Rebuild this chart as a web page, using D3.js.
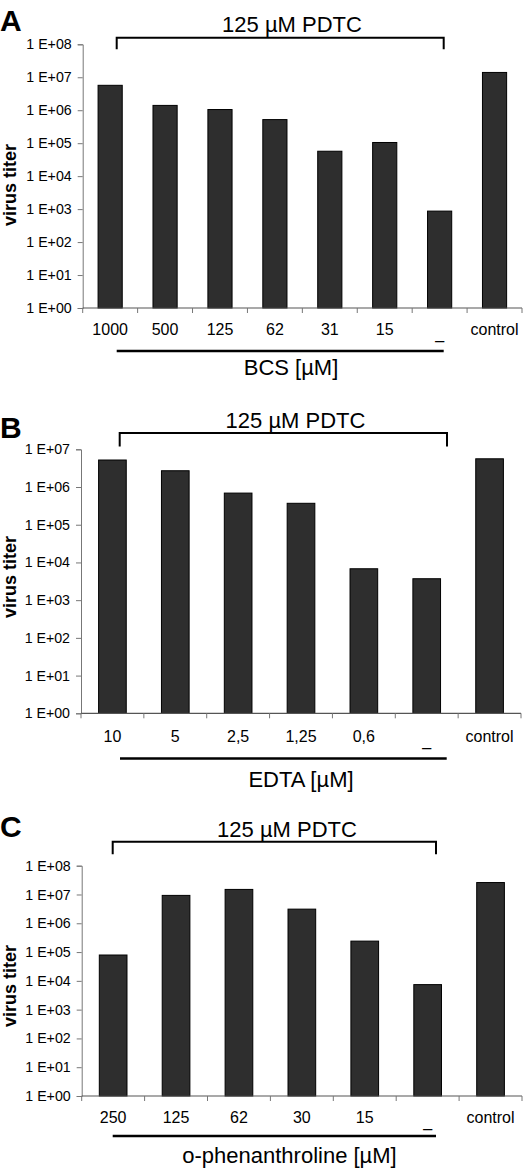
<!DOCTYPE html>
<html><head><meta charset="utf-8">
<script src="https://cdn.jsdelivr.net/npm/d3@7/dist/d3.min.js"></script>
<style>
html,body{margin:0;padding:0;background:#fff;}
svg{display:block;}
text{font-family:"Liberation Sans",Arial,sans-serif;fill:#000;}
</style></head>
<body>
<svg id="chart" width="532" height="1172"></svg>
<script>
// ---------- DATA ----------
const categoriesA = ["1000","500","125","62","31","15","_","control"];
const titerA      = [5.7e6, 1.4e6, 1.05e6, 5.2e5, 5.7e4, 1.05e5, 870, 1.4e7];
const categoriesB = ["10","5","2,5","1,25","0,6","_","control"];
const titerB      = [5.2e6, 2.7e6, 6.9e5, 3.7e5, 6.8e3, 3.7e3, 5.6e6];
const categoriesC = ["250","125","62","30","15","_","control"];
const titerC      = [7.9e4, 9.3e6, 1.5e7, 3.1e6, 2.4e5, 7.4e3, 2.6e7];
const tickValues8 = [1e0,1e1,1e2,1e3,1e4,1e5,1e6,1e7,1e8];
const tickLabels8 = ["1 E+00","1 E+01","1 E+02","1 E+03","1 E+04","1 E+05","1 E+06","1 E+07","1 E+08"];
const tickValues7 = [1e0,1e1,1e2,1e3,1e4,1e5,1e6,1e7];
const tickLabels7 = ["1 E+00","1 E+01","1 E+02","1 E+03","1 E+04","1 E+05","1 E+06","1 E+07"];
const panelLetters = ["A","B","C"];
const bracketTitle = "125 µM PDTC";
const yTitle = "virus titer";
const xTitles = ["BCS [µM]","EDTA [µM]","o-phenanthroline [µM]"];

// ---------- LAYOUT ----------
const panels = [
  {letter:panelLetters[0], cats:categoriesA, vals:titerA, ticks:tickValues8, labels:tickLabels8, yMax:1e8,
   x0:82.7, x1:522, yTop:44.3, yBot:308,
   letterY:31, titleX:292, titleY:31.5, brY:37.7, brX0:116.7, brX1:443.7, brDrop:11.5,
   xLabY:335, ulY:351, ulX0:116.7, ulX1:443.7, xTitle:xTitles[0], xTitleX:291, xTitleY:375, yTitleY:185},
  {letter:panelLetters[1], cats:categoriesB, vals:titerB, ticks:tickValues7, labels:tickLabels7, yMax:1e7,
   x0:81, x1:521, yTop:449.3, yBot:713.3,
   letterY:438, titleX:295.5, titleY:428, brY:433, brX0:119.7, brX1:447, brDrop:13.5,
   xLabY:741.7, ulY:758.5, ulX0:120, ulX1:446.7, xTitle:xTitles[1], xTitleX:301, xTitleY:786.5, yTitleY:577},
  {letter:panelLetters[2], cats:categoriesC, vals:titerC, ticks:tickValues8, labels:tickLabels8, yMax:1e8,
   x0:81.7, x1:522, yTop:865.7, yBot:1096,
   letterY:837, titleX:287, titleY:836.5, brY:841.7, brX0:112.7, brX1:436, brDrop:12.5,
   xLabY:1123.3, ulY:1136, ulX0:112.7, ulX1:436, xTitle:xTitles[2], xTitleX:289.5, xTitleY:1162.5, yTitleY:986}
];

const svg = d3.select("#chart");

panels.forEach(p => {
  const g = svg.append("g");
  const y = d3.scaleLog().domain([1, p.yMax]).range([p.yBot, p.yTop]);
  const x = d3.scaleBand().domain(p.cats).range([p.x0, p.x1]).paddingInner(0.56).paddingOuter(0.28);

  // bars
  g.selectAll("rect.bar").data(p.cats.map((c,i)=>({c, v:p.vals[i]})))
    .enter().append("rect").attr("class","bar")
    .attr("x", d => x(d.c))
    .attr("width", x.bandwidth())
    .attr("y", d => y(d.v))
    .attr("height", d => y(1) - y(d.v))
    .attr("fill", "#2e2e2e")
    .attr("stroke", "#000")
    .attr("stroke-width", 1);

  // y axis
  const yAxis = d3.axisLeft(y).tickValues(p.ticks)
      .tickFormat((d,i) => p.labels[i]).tickSize(5).tickPadding(6);
  const ya = g.append("g").attr("transform", `translate(${p.x0},0)`).call(yAxis);
  ya.select(".domain").attr("stroke","#777").attr("stroke-width",1);
  ya.selectAll(".tick line").attr("stroke","#777");
  ya.selectAll(".tick text").attr("font-size","14.2px").attr("font-family","Liberation Sans, Arial, sans-serif").attr("fill","#000");

  // x axis: boundary ticks pointing down
  const bounds = p.cats.map(c => x(c) - x.step()*x.paddingInner()/2);
  bounds.push(p.x1);
  g.append("line").attr("x1",p.x0).attr("x2",p.x1).attr("y1",p.yBot).attr("y2",p.yBot)
    .attr("stroke","#555").attr("stroke-width",1.2);
  g.selectAll("line.xt").data(bounds).enter().append("line").attr("class","xt")
    .attr("x1",d=>d).attr("x2",d=>d).attr("y1",p.yBot).attr("y2",p.yBot+5)
    .attr("stroke","#777").attr("stroke-width",1);
  g.selectAll("text.xl").data(p.cats).enter().append("text").attr("class","xl")
    .attr("x", d => x(d) + x.bandwidth()/2)
    .attr("y", d => d === "_" ? p.xLabY + 4 : p.xLabY)
    .attr("text-anchor","middle").attr("font-size","16px").text(d => d);

  // panel letter
  g.append("text").attr("x",0).attr("y",p.letterY).attr("font-size","30px")
    .attr("font-weight","bold").text(p.letter);

  // bracket and title
  g.append("text").attr("x",p.titleX).attr("y",p.titleY).attr("text-anchor","middle")
    .attr("font-size","22px").text(bracketTitle);
  g.append("path")
    .attr("d", `M${p.brX0},${p.brY+p.brDrop}V${p.brY}H${p.brX1}V${p.brY+p.brDrop}`)
    .attr("fill","none").attr("stroke","#000").attr("stroke-width",2);

  // underline and x title
  g.append("line").attr("x1",p.ulX0).attr("x2",p.ulX1).attr("y1",p.ulY).attr("y2",p.ulY)
    .attr("stroke","#000").attr("stroke-width",2.5);
  g.append("text").attr("x",p.xTitleX).attr("y",p.xTitleY).attr("text-anchor","middle")
    .attr("font-size","22px").text(p.xTitle);

  // y title
  g.append("text").attr("transform",`translate(15.5,${p.yTitleY}) rotate(-90)`)
    .attr("text-anchor","middle").attr("font-size","18px").attr("font-weight","bold").text(yTitle);
});
</script>
</body></html>
